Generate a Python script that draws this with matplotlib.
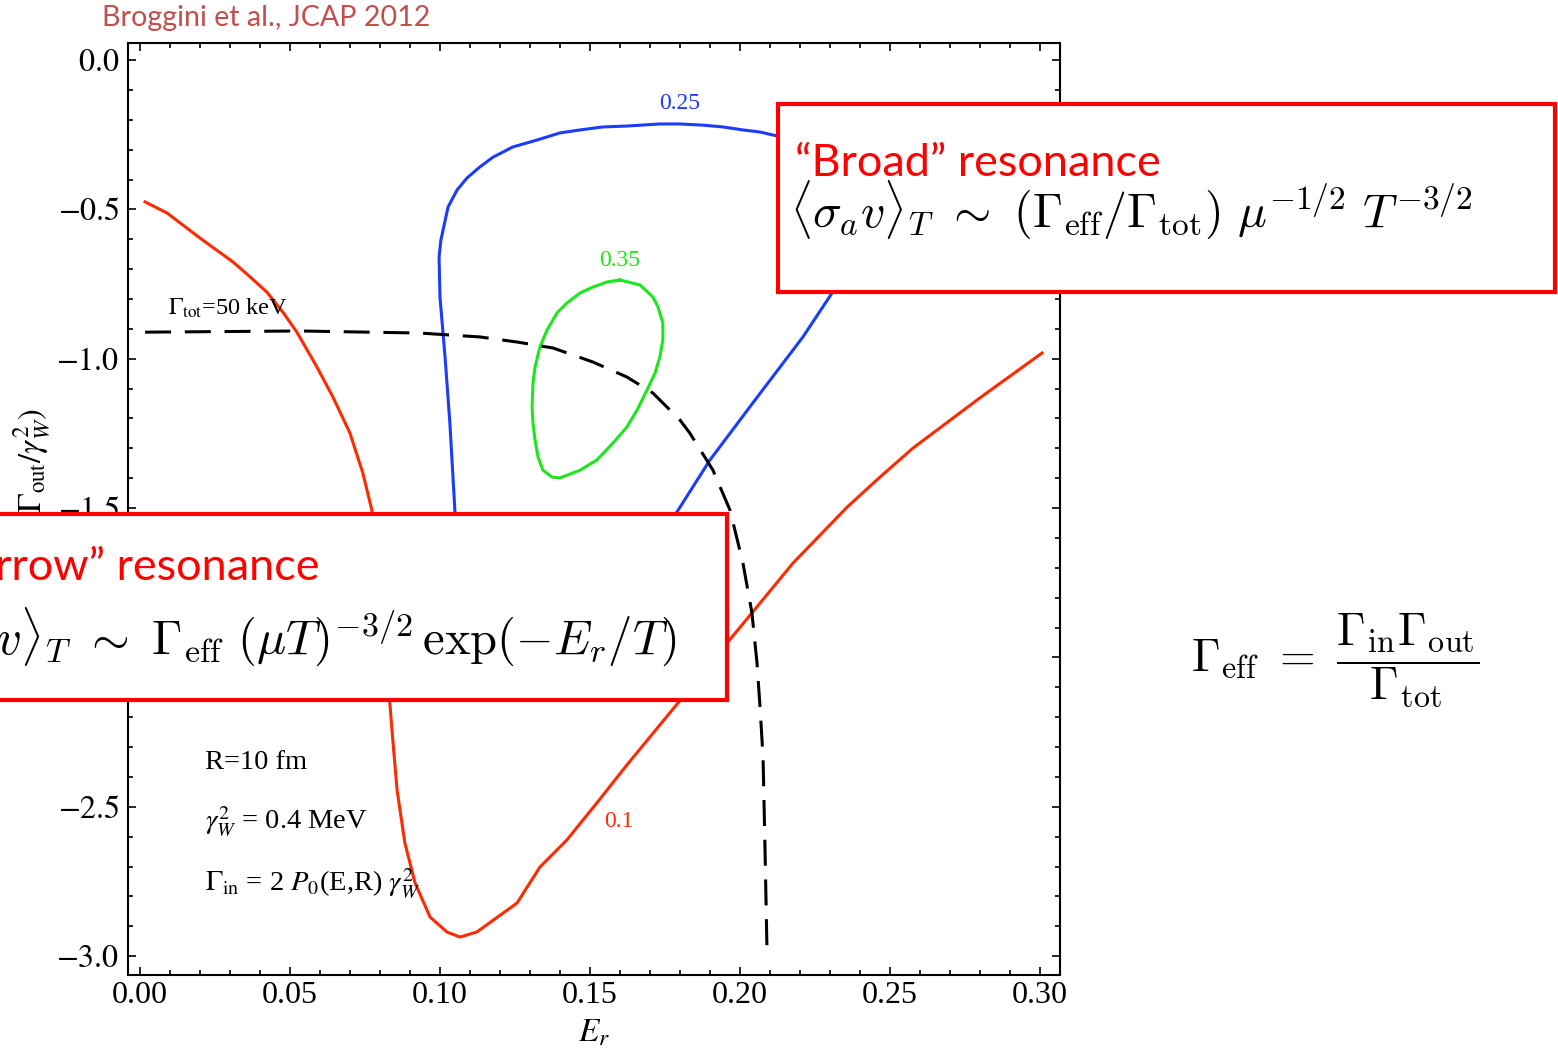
import numpy as np
import matplotlib.pyplot as plt
from matplotlib.patches import Rectangle

# contour 0.1 (red)
red_E = [0.0017, 0.009, 0.020, 0.031, 0.0367, 0.0423, 0.0477, 0.0523, 0.059, 0.0643,
         0.070, 0.0743, 0.0773, 0.0807, 0.0833, 0.084, 0.0857, 0.0883, 0.0917, 0.0967,
         0.1023, 0.1067, 0.1123, 0.121, 0.1257, 0.1333, 0.1423, 0.1523, 0.1623, 0.1793,
         0.196, 0.204, 0.2177, 0.2357, 0.2467, 0.2577, 0.280, 0.3007]
red_y = [-0.475, -0.512, -0.596, -0.676, -0.726, -0.777, -0.845, -0.911, -1.028, -1.128,
         -1.249, -1.383, -1.507, -1.808, -2.153, -2.243, -2.444, -2.621, -2.755, -2.869,
         -2.919, -2.936, -2.919, -2.856, -2.822, -2.702, -2.611, -2.487, -2.360, -2.153,
         -1.948, -1.851, -1.684, -1.497, -1.396, -1.299, -1.131, -0.981]

# contour 0.25 (blue), closed loop partly hidden behind the boxes
blue_E = [0.1100, 0.105, 0.1033, 0.1017, 0.100, 0.0997, 0.1003, 0.1027, 0.1057, 0.109,
          0.1133, 0.1177, 0.1243, 0.1323, 0.140, 0.1467, 0.1543, 0.1623, 0.1733, 0.18,
          0.1877, 0.1943, 0.201, 0.2067, 0.2123, 0.225, 0.2333, 0.2307, 0.221, 0.2043,
          0.190, 0.179, 0.1667, 0.140, 0.1133, 0.1100]
blue_y = [-1.700, -1.513, -1.215, -0.994, -0.793, -0.660, -0.603, -0.492, -0.435, -0.395,
          -0.358, -0.325, -0.291, -0.268, -0.244, -0.234, -0.224, -0.221, -0.214, -0.214,
          -0.218, -0.224, -0.234, -0.241, -0.254, -0.335, -0.569, -0.780, -0.927, -1.148,
          -1.339, -1.513, -1.700, -1.850, -1.800, -1.700]

# contour 0.35 (green), closed loop
green_E = [0.160, 0.1667, 0.171, 0.1727, 0.1743, 0.1743, 0.1733, 0.1717, 0.169, 0.1657,
           0.1623, 0.1577, 0.1523, 0.1467, 0.140, 0.1373, 0.1343, 0.1327, 0.1317, 0.131,
           0.1307, 0.131, 0.1317, 0.1333, 0.1357, 0.139, 0.1423, 0.1467, 0.151, 0.1557,
           0.160]
green_y = [-0.7365, -0.753, -0.7935, -0.827, -0.8805, -0.937, -0.994, -1.048, -1.105, -1.172,
           -1.229, -1.282, -1.339, -1.373, -1.399, -1.396, -1.373, -1.329, -1.272, -1.215,
           -1.162, -1.081, -1.028, -0.961, -0.904, -0.847, -0.8135, -0.780, -0.760, -0.743,
           -0.7365]

# Gamma_tot = 50 keV (dashed)
tot_E = [0.0017, 0.0533, 0.0933, 0.1133, 0.1257, 0.1377, 0.151, 0.1623, 0.171, 0.180,
         0.1833, 0.191, 0.1967, 0.201, 0.204, 0.2057, 0.2067, 0.2077, 0.2083, 0.209]
tot_y = [-0.911, -0.907, -0.914, -0.927, -0.944, -0.964, -1.011, -1.061, -1.115, -1.205,
         -1.249, -1.373, -1.507, -1.684, -1.851, -2.019, -2.166, -2.333, -2.611, -2.970]

W, H = 1558, 1049
plt.rcParams['font.family'] = 'Liberation Serif'
plt.rcParams['mathtext.fontset'] = 'stix'

fig = plt.figure(figsize=(W / 100, H / 100), dpi=100)
ax = fig.add_axes([128 / W, 1 - 975 / H, (1060 - 128) / W, (975 - 43) / H])

red = '#ff2a00'
blue = '#1a3cff'
green = '#1ee61e'
ax.plot(red_E, red_y, color=red, lw=2.2, solid_joinstyle='round')
ax.plot(blue_E, blue_y, color=blue, lw=2.2, solid_joinstyle='round')
ax.plot(green_E, green_y, color=green, lw=2.2, solid_joinstyle='round')
ax.plot(tot_E, tot_y, color='black', lw=2.2, dashes=(8.5, 4.5))

ax.set_xlim(-0.004, 0.3067)
ax.set_ylim(-3.063, 0.057)
ax.set_xticks(np.arange(0, 0.301, 0.05))
ax.set_xticks(np.arange(0, 0.301, 0.01), minor=True)
ax.set_yticks(np.arange(-3.0, 0.01, 0.5))
ax.set_yticks(np.arange(-3.0, 0.01, 0.1), minor=True)
ax.xaxis.set_major_formatter(plt.FormatStrFormatter('%.2f'))
ax.yaxis.set_major_formatter(plt.FuncFormatter(lambda v, p: '$%.1f$' % (v + 0.0)))
ax.tick_params(which='both', direction='in', top=True, right=True, labelsize=23, width=1.2)
ax.tick_params(which='major', length=6, pad=6)
ax.tick_params(axis='x', which='major', pad=4)
ax.tick_params(which='minor', length=3.5)
for s in ax.spines.values():
    s.set_linewidth(1.5)
ax.set_xlabel('$E_r$', fontsize=24, labelpad=6)

# contour labels and notes
ax.text(0.18, -0.147, '0.25', color=blue, fontsize=17, ha='center', va='center')
ax.text(0.16, -0.67, '0.35', color=green, fontsize=17, ha='center', va='center')
ax.text(0.1597, -2.548, '0.1', color=red, fontsize=17, ha='center', va='center')
ax.text(0.0093, -0.83, r'$\Gamma_{\rm tot}$=50 keV', fontsize=17.5, va='center')
ax.text(0.0217, -2.35, 'R=10 fm', fontsize=20.5, va='center')
ax.text(0.0217, -2.551, r'$\gamma_W^2$ = 0.4 MeV', fontsize=20.5, va='center')
ax.text(0.0217, -2.759, r'$\Gamma_{\rm in}$ = 2 $P_0$(E,R) $\gamma_W^2$', fontsize=20.5, va='center')

fig.text(32 / W, 1 - 408 / H, r'$\log_{10}(\Gamma_{\rm out}/\gamma_W^2)$', rotation=90,
         ha='center', va='top', fontsize=23.5)

fig.text(102 / W, 1 - 18 / H, 'Broggini et al., JCAP 2012', color='#c0504d',
         fontsize=20.6, family='Lato', va='center')

# boxes
def px_rect(x0, y0, x1, y1):
    return Rectangle((x0 / W, 1 - y1 / H), (x1 - x0) / W, (y1 - y0) / H,
                     transform=fig.transFigure, facecolor='white', edgecolor='#ff0000',
                     lw=3, zorder=5)

fig.add_artist(px_rect(778, 104, 1555, 292))
fig.add_artist(px_rect(-20, 514, 727, 700))

fig.text(795 / W, 1 - 163 / H, '\u201cBroad\u201d resonance', color='#ff0000', fontsize=32.4,
         family='Lato', va='center', zorder=6)
fig.text(790 / W, 1 - 210 / H,
         r'$\langle\sigma_a v\rangle_T\ \sim\ (\Gamma_{\rm eff}/\Gamma_{\rm tot})\ \mu^{-1/2}\ T^{-3/2}$',
         fontsize=34.5, math_fontfamily='cm', va='center', zorder=6)
fig.text(320 / W, 1 - 568 / H, '\u201cNarrow\u201d resonance', color='#ff0000', fontsize=32.4,
         family='Lato', va='center', ha='right', zorder=6)
fig.text(677 / W, 1 - 637 / H,
         r'$\langle\sigma_a v\rangle_T\ \sim\ \Gamma_{\rm eff}\ (\mu T)^{-3/2}\, \exp(-E_r/T)$',
         fontsize=35, math_fontfamily='cm', va='center', ha='right', zorder=6)

fig.text(1335 / W, 1 - 660 / H,
         r'$\Gamma_{\rm eff}\ =\ \dfrac{\Gamma_{\rm in}\Gamma_{\rm out}}{\Gamma_{\rm tot}}$',
         fontsize=33, math_fontfamily='cm', va='center', ha='center')

fig.savefig('out.png', dpi=100)
